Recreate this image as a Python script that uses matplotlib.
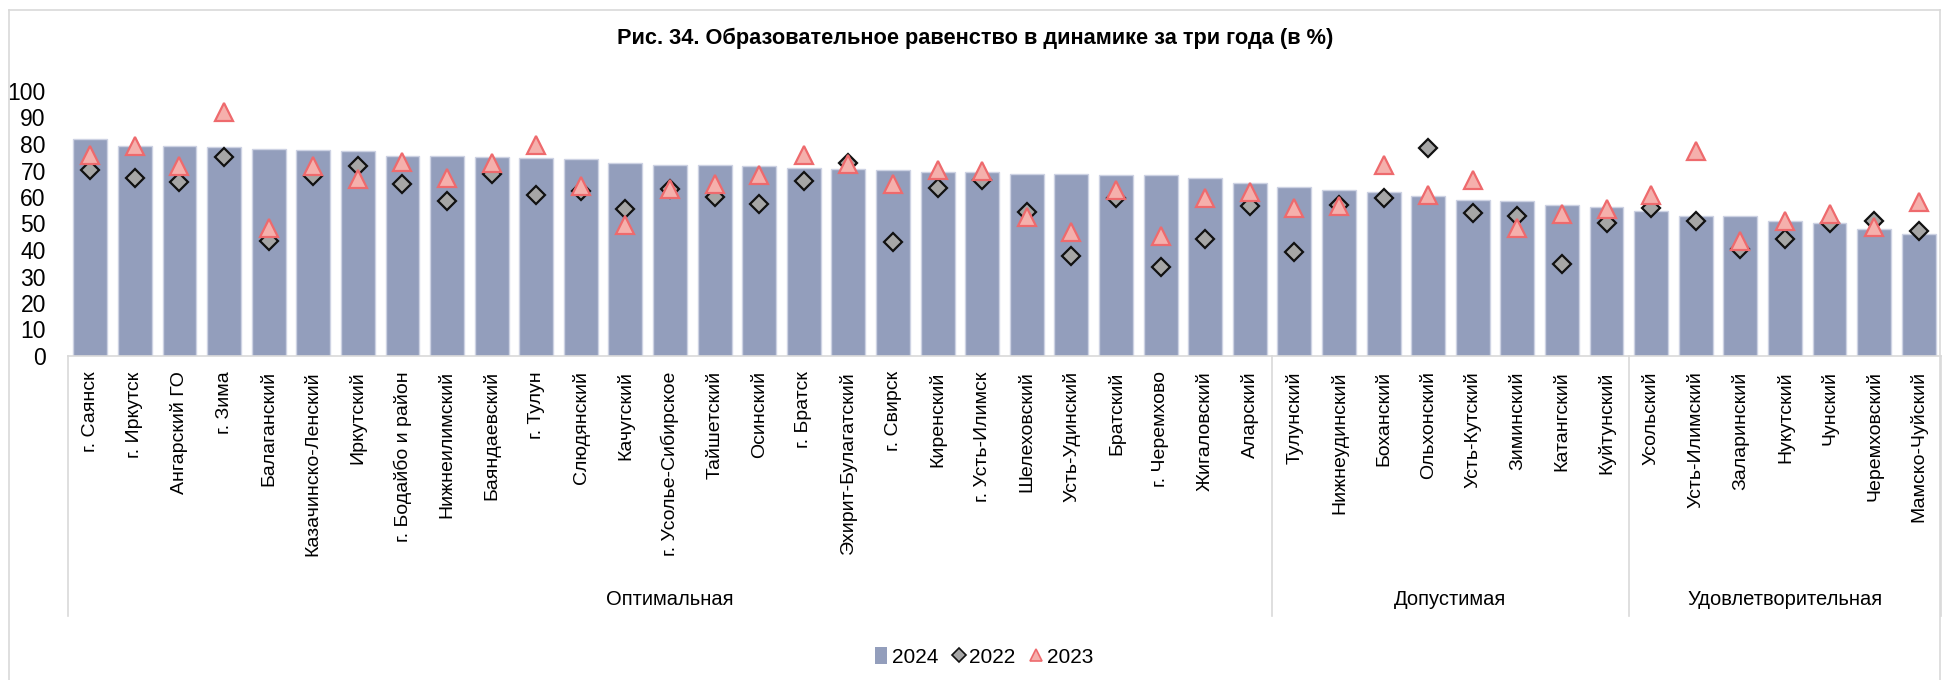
import numpy as np
import matplotlib.pyplot as plt
from matplotlib.patches import Patch
from matplotlib.lines import Line2D

NARROW = ["Liberation Sans Narrow", "Liberation Sans"]
REGULAR = ["Liberation Sans", "DejaVu Sans"]

districts = [
    "г. Саянск", "г. Иркутск", "Ангарский ГО", "г. Зима", "Балаганский",
    "Казачинско-Ленский", "Иркутский", "г. Бодайбо и район", "Нижнеилимский",
    "Баяндаевский", "г. Тулун", "Слюдянский", "Качугский", "г. Усолье-Сибирское",
    "Тайшетский", "Осинский", "г. Братск", "Эхирит-Булагатский", "г. Свирск",
    "Киренский", "г. Усть-Илимск", "Шелеховский", "Усть-Удинский", "Братский",
    "г. Черемхово", "Жигаловский", "Аларский",
    "Тулунский", "Нижнеудинский", "Боханский", "Ольхонский", "Усть-Кутский",
    "Зиминский", "Катангский", "Куйтунский",
    "Усольский", "Усть-Илимский", "Заларинский", "Нукутский", "Чунский",
    "Черемховский", "Мамско-Чуйский",
]
groups = ["Оптимальная", "Допустимая", "Удовлетворительная"]
group_sizes = [27, 8, 7]

v2024 = [81.9, 79.1, 79.1, 78.8, 78.1, 77.6, 77.4, 75.6, 75.3, 75.1,
         74.7, 74.2, 72.8, 72.2, 72.0, 71.8, 70.8, 70.5, 70.2, 69.3,
         69.3, 68.8, 68.6, 68.4, 68.2, 67.1, 65.3,
         63.7, 62.5, 61.8, 60.3, 58.8, 58.4, 56.9, 56.1,
         54.6, 52.7, 52.7, 50.8, 50.1, 47.8, 45.9]
v2022 = [70.3, 67.3, 65.5, 75.1, 43.4, 67.9, 71.7, 64.8, 58.4, 68.7,
         60.6, 62.2, 55.6, 63.2, 60.0, 57.5, 66.0, 72.7, 42.9, 63.4,
         66.4, 54.5, 37.7, 59.8, 33.4, 44.3, 56.7,
         39.1, 57.0, 59.5, 78.6, 54.1, 52.7, 34.7, 50.3,
         56.0, 50.8, 40.5, 44.2, 50.1, 50.9, 47.1]
v2023 = [75.8, 79.4, 71.8, 92.2, 48.4, 71.8, 66.9, 73.1, 67.2, 72.7,
         79.8, 64.0, 49.5, 62.9, 64.9, 68.4, 75.8, 72.5, 64.9, 70.3,
         69.8, 52.6, 46.9, 62.8, 45.3, 59.6, 62.0,
         55.8, 56.5, 72.0, 60.9, 66.6, 48.4, 53.4, 55.4,
         60.6, 77.5, 43.5, 50.8, 53.5, 48.8, 58.1]

W, H = 1943, 680
fig = plt.figure(figsize=(W / 100, H / 100), dpi=100)
ax = fig.add_axes([68 / W, 1 - 356 / H, (1941 - 68) / W, (356 - 91) / H])

x = np.arange(len(districts))
bar_color = "#939EBC"
ax.bar(x, v2024, width=0.76, color=bar_color, edgecolor="#CDD2E3", linewidth=1, zorder=2)
ax.plot(x, v2022, ls="none", marker="D", ms=9, mfc="#A6A6A6", mec="#111111", mew=1.6, zorder=3)
ax.plot(x, v2023, ls="none", marker="^", ms=12.5, mfc="#F5B0AC", mec="#EE6A6D", mew=1.6, zorder=4)

ax.set_xlim(-0.5, len(districts) - 0.5)
ax.set_ylim(0, 100)
for s in ["top", "right", "left"]:
    ax.spines[s].set_visible(False)
ax.spines["bottom"].set_color("#D9D9D9")
ax.spines["bottom"].set_linewidth(1.2)

ax.set_yticks(range(0, 101, 10))
ax.tick_params(axis="y", length=0, pad=16)
for lab in ax.get_yticklabels():
    lab.set_family(NARROW)
    lab.set_fontsize(16.5)

ax.set_xticks(x)
ax.set_xticklabels(districts, rotation=90, fontsize=14, family=REGULAR, va="top")
ax.tick_params(axis="x", length=0, pad=11)

# group separators and group labels
trans = ax.get_xaxis_transform()
edges = np.concatenate([[0], np.cumsum(group_sizes)]) - 0.5
for e in edges:
    ax.plot([e, e], [0, -0.98], transform=trans, color="#D9D9D9", lw=1.2, clip_on=False)
for g, a, b in zip(groups, edges[:-1], edges[1:]):
    ax.text((a + b) / 2, -0.917, g, transform=trans, ha="center", va="center",
            fontsize=14.5, family=NARROW)

fig.text(975 / W, 1 - 38 / H,
         "Рис. 34. Образовательное равенство в динамике за три года (в %)",
         ha="center", va="center", fontsize=15.7, fontweight="bold", family=NARROW)

handles = [
    Patch(facecolor=bar_color, edgecolor="none"),
    Line2D([], [], ls="none", marker="D", ms=7, mfc="#A6A6A6", mec="#111111", mew=1.2),
    Line2D([], [], ls="none", marker="^", ms=9, mfc="#F5B0AC", mec="#EE6A6D", mew=1.2),
]
fig.legend(handles, ["2024", "2022", "2023"], loc="center", ncol=3,
           bbox_to_anchor=(984 / W, 1 - 657 / H), frameon=False,
           prop={"family": NARROW, "size": 15}, handlelength=0.6, handleheight=0.9,
           handletextpad=0.2, columnspacing=0.7)

# outer chart frame
fr = dict(color="#D9D9D9", lw=1.2, transform=fig.transFigure)
fig.add_artist(Line2D([9 / W, 9 / W], [0, 1 - 10 / H], **fr))
fig.add_artist(Line2D([9 / W, 1940 / W], [1 - 10 / H, 1 - 10 / H], **fr))
fig.add_artist(Line2D([1940 / W, 1940 / W], [0, 1 - 10 / H], **fr))

fig.savefig("out.png", dpi=100)
